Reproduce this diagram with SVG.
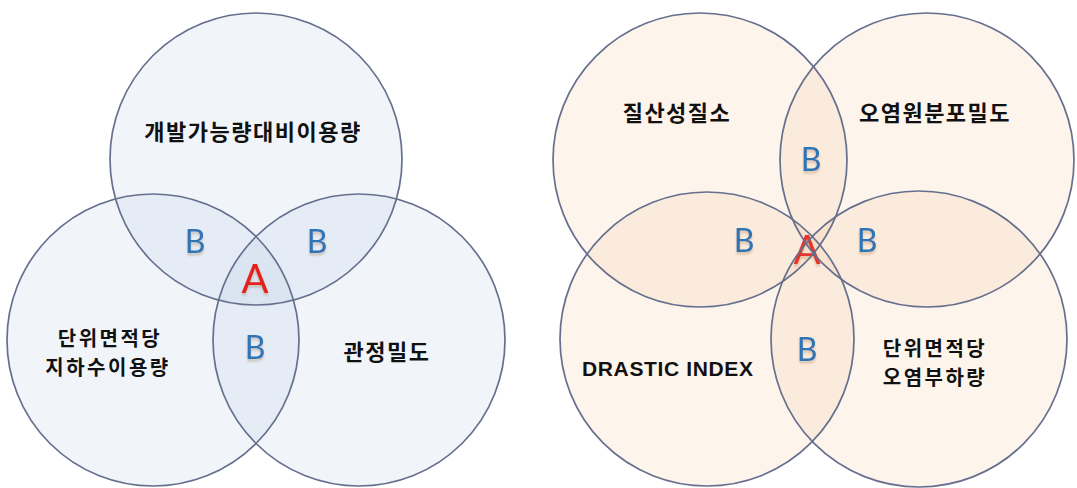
<svg xmlns="http://www.w3.org/2000/svg" width="1077" height="488" viewBox="0 0 1077 488">
<style>
.blue{fill:#b3c9e6;fill-opacity:0.18;stroke:none}
.peach{fill:#f5c29a;fill-opacity:0.19;stroke:none}
.ring{fill:none;stroke:#666f8e;stroke-width:1.7}
.lbl{font-family:"Noto Sans CJK KR","Noto Sans",sans-serif;font-weight:bold;font-size:22px;letter-spacing:1.5px;fill:#111;text-anchor:middle}
.lbl2{font-family:"Noto Sans CJK KR","Noto Sans",sans-serif;font-weight:bold;font-size:20px;letter-spacing:2.5px;fill:#111;text-anchor:middle}
.en{font-family:"Liberation Sans","Noto Sans",sans-serif;font-weight:bold;font-size:21px;fill:#111}
.b{font-family:Lato,"Liberation Sans",sans-serif;font-size:32px;fill:#2f74b5;text-anchor:middle}
.a{font-family:Lato,"Liberation Sans",sans-serif;font-size:40px;fill:#e3201c;text-anchor:middle}
</style>
<defs>
<filter id="sh" x="-30%" y="-30%" width="160%" height="170%">
<feDropShadow dx="0" dy="2.5" stdDeviation="1.2" flood-color="#9c6b3c" flood-opacity="0.35"/>
</filter>
</defs>
<rect width="1077" height="488" fill="#ffffff"/>
<g id="left-venn">
<g id="node-top">
<circle class="blue" cx="256" cy="159" r="146"/>
</g>
<g id="node-bottom-left">
<circle class="blue" cx="153" cy="340" r="146"/>
</g>
<g id="node-bottom-right">
<circle class="blue" cx="359" cy="340" r="146"/>
</g>
<circle class="ring" cx="256" cy="159" r="146"/>
<circle class="ring" cx="153" cy="340" r="146"/>
<circle class="ring" cx="359" cy="340" r="146"/>
<text class="lbl" x="253" y="140">개발가능량대비이용량</text>
<text class="lbl2" x="110" y="346">단위면적당</text>
<text class="lbl2" x="108" y="375">지하수이용량</text>
<text class="lbl" x="387" y="360">관정밀도</text>
<text class="b" x="195" y="253" filter="url(#sh)">B</text>
<text class="b" x="317" y="253" filter="url(#sh)">B</text>
<text class="b" x="255" y="359" filter="url(#sh)">B</text>
<text class="a" x="255" y="293" filter="url(#sh)">A</text>
</g>
<g id="right-venn">
<g id="node-top-left">
<circle class="peach" cx="700" cy="160" r="147"/>
</g>
<g id="node-top-right">
<circle class="peach" cx="927" cy="160" r="147"/>
</g>
<g id="node-bottom-left-2">
<circle class="peach" cx="707" cy="339" r="147"/>
</g>
<g id="node-bottom-right-2">
<circle class="peach" cx="919" cy="339" r="148"/>
</g>
<text class="a" x="807" y="264" filter="url(#sh)" opacity="0.9">A</text>
<circle class="ring" cx="700" cy="160" r="147"/>
<circle class="ring" cx="927" cy="160" r="147"/>
<circle class="ring" cx="707" cy="339" r="147"/>
<circle class="ring" cx="919" cy="339" r="148"/>
<text class="lbl" x="677" y="121">질산성질소</text>
<text class="lbl" x="935" y="121">오염원분포밀도</text>
<text class="en" x="582" y="376" textLength="171" lengthAdjust="spacing">DRASTIC INDEX</text>
<text class="lbl2" x="935" y="356">단위면적당</text>
<text class="lbl2" x="935" y="385">오염부하량</text>
<text class="b" x="811" y="171" filter="url(#sh)">B</text>
<text class="b" x="744" y="252" filter="url(#sh)">B</text>
<text class="b" x="867" y="252" filter="url(#sh)">B</text>
<text class="b" x="807" y="361" filter="url(#sh)">B</text>
</g>
</svg>
